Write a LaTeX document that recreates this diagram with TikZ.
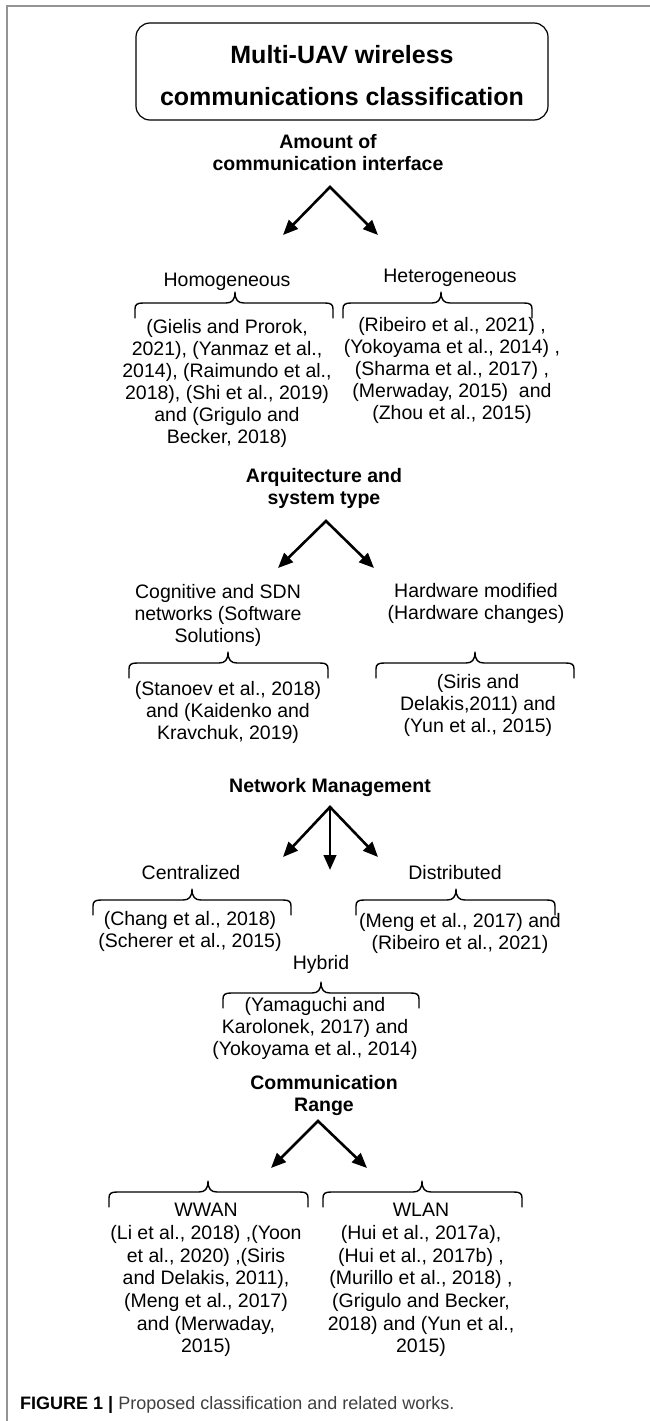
\documentclass[tikz,border=0pt]{standalone}
\usepackage{fontspec}
\setmainfont{Liberation Sans}
\usetikzlibrary{arrows.meta}
% over-brace with cusp pointing up: #1 left x, #2 cusp x, #3 right x, #4 y of the horizontal line
\newcommand\obrace[4]{%
  \draw[brc] (#1,#4+15) -- (#1,#4+6) .. controls (#1,#4+1.5) and (#1+2,#4) .. (#1+8,#4)
    -- (#2-9,#4) .. controls (#2-3,#4) and (#2,#4-3) .. (#2,#4-11)
    .. controls (#2,#4-3) and (#2+3,#4) .. (#2+9,#4)
    -- (#3-8,#4) .. controls (#3-2,#4) and (#3,#4+1.5) .. (#3,#4+6) -- (#3,#4+15);}
\begin{document}
\begin{tikzpicture}[x=1pt,y=-1pt,
  txt/.style={anchor=north,inner sep=0pt,align=center,font=\fontsize{19.5}{22}\selectfont,execute at begin node=\strut},
  hd/.style={txt,font=\fontsize{19.5}{22}\selectfont\bfseries},
  wide/.style={txt,font=\fontsize{19.5}{22.7}\selectfont},
  arr/.style={line width=2.6pt,line join=miter,{Triangle[length=15pt,width=12.5pt]}-{Triangle[length=15pt,width=12.5pt]}},
  arrone/.style={line width=2.6pt,-{Triangle[length=15pt,width=12.5pt]}},
  brc/.style={line width=1.4pt,line cap=round,line join=round},
  frm/.style={line width=1.6pt,color=black!42},
  titlebox/.style={draw,line width=1.2pt,rounded corners=14pt,minimum width=412pt,minimum height=97pt,inner sep=0pt,align=center,font=\fontsize{25}{42}\selectfont\bfseries}
]
\useasboundingbox (0,0) rectangle (650,1421);
\draw[frm] (7,1421) -- (7,6) -- (650,6);

% title
\node[titlebox] (title) at (342,71.5) {\rule{0pt}{31pt}Multi-UAV wireless\\communications classification\rule[-6pt]{0pt}{6pt}};

% 1 amount of communication interface
\node[hd] (h1) at (328,134.6) {Amount of\\communication interface};
\coordinate (a1) at (330,187);
\coordinate (t1l) at (283,235);
\coordinate (t1r) at (378,235);
\draw[arr] (t1l) -- (a1) -- (t1r);
\node[txt] (homo) at (227,270.6) {Homogeneous};
\node[txt] (hetero) at (450,266.6) {Heterogeneous};
\obrace{135}{235}{333}{303}
\obrace{343}{441}{532}{303}
\node[txt] (homoc) at (227,319.6) {(Gielis and Prorok,\\2021), (Yanmaz et al.,\\2014), (Raimundo et al.,\\2018), (Shi et al., 2019)\\and (Grigulo and\\Becker, 2018)};
\node[txt] (heteroc) at (452,317.6) {(Ribeiro et al., 2021) ,\\(Yokoyama et al., 2014) ,\\(Sharma et al., 2017) ,\\(Merwaday, 2015)\ \ and\\(Zhou et al., 2015)};

% 2 architecture
\node[hd] (h2) at (324,468.6) {Arquitecture and\\system type};
\coordinate (a2) at (326,521);
\coordinate (t2l) at (278,568);
\coordinate (t2r) at (374,568);
\draw[arr] (t2l) -- (a2) -- (t2r);
\node[txt] (cog) at (218,584.6) {Cognitive and SDN\\networks (Software\\Solutions)};
\node[txt] (hw) at (476,583.6) {Hardware modified\\(Hardware changes)};
\obrace{129}{228}{328}{663}
\obrace{376}{475}{574}{663}
\node[txt] (cogc) at (228,681.6) {(Stanoev et al., 2018)\\and (Kaidenko and\\Kravchuk, 2019)};
\node[txt] (hwc) at (478,674.6) {(Siris and\\Delakis,2011) and\\(Yun et al., 2015)};

% 3 network management
\node[hd] (h3) at (330,776.6) {Network Management};
\coordinate (a3) at (330,807);
\coordinate (t3l) at (283,857);
\coordinate (t3m) at (330,870);
\coordinate (t3r) at (378,857);
\draw[arr] (t3l) -- (a3) -- (t3r);
\draw[arrone] (a3) -- (t3m);
\node[txt] (cen) at (191,863.6) {Centralized};
\node[txt] (dis) at (455,863.6) {Distributed};
\obrace{93}{192}{291}{900}
\obrace{356}{456}{555}{900}
\node[txt] (cenc) at (190,911.6) {(Chang et al., 2018)\\(Scherer et al., 2015)};
\node[txt] (disc) at (460,913.6) {(Meng et al., 2017) and\\(Ribeiro et al., 2021)};
\node[txt] (hyb) at (321,953.6) {Hybrid};
\obrace{223}{321}{419}{993}
\node[txt] (hybc) at (315,997.6) {(Yamaguchi and\\Karolonek, 2017) and\\(Yokoyama et al., 2014)};

% 4 communication range
\node[hd] (h4) at (324,1075.6) {Communication\\Range};
\coordinate (a4) at (318,1121);
\coordinate (t4l) at (271,1168);
\coordinate (t4r) at (367,1168);
\draw[arr] (t4l) -- (a4) -- (t4r);
\obrace{109}{208}{308}{1192}
\obrace{323}{422}{522}{1192}
\node[wide] (wwan) at (206,1203.1) {WWAN\\(Li et al., 2018) ,(Yoon\\et al., 2020) ,(Siris\\and Delakis, 2011),\\(Meng et al., 2017)\\and (Merwaday,\\2015)};
\node[wide] (wlan) at (421,1203.1) {WLAN\\(Hui et al., 2017a),\\(Hui et al., 2017b) ,\\(Murillo et al., 2018) ,\\(Grigulo and Becker,\\2018) and (Yun et al.,\\2015)};

% caption
\node[anchor=base west,inner sep=0pt,font=\fontsize{18}{20}\selectfont] (cap) at (20,1409) {\textbf{FIGURE 1 \textbar} \textcolor{black!75}{Proposed classification and related works.}};
\end{tikzpicture}
\end{document}
